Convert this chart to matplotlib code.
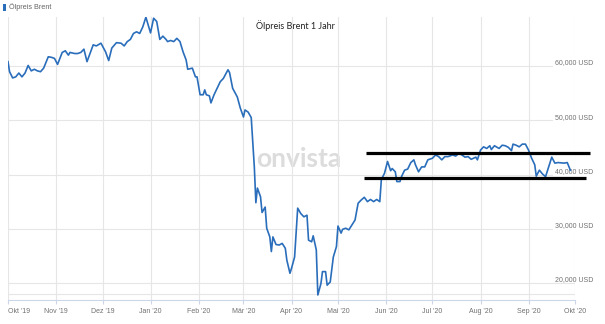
import datetime as dt
import matplotlib
matplotlib.use("Agg")
import matplotlib.pyplot as plt
import matplotlib.dates as mdates
from matplotlib.patches import Rectangle

# Brent price, days counted from 1 Oct 2019
start = dt.date(2019, 10, 1)
days = [0, 1, 3, 5, 7, 9, 11, 13, 15, 17, 19, 21, 23, 26, 28, 30, 32, 35, 37, 39,
        40, 43, 45, 47, 49, 51, 55, 57, 60, 63, 65, 67, 70, 73, 75, 77, 79, 81, 83, 85,
        87, 89, 92, 94, 96, 98, 100, 102, 103, 105, 107, 109, 111, 113, 115, 116, 119, 121, 122, 124,
        126, 127, 128, 130, 131, 133, 135, 137, 139, 142, 143, 145, 148, 150, 152, 153, 155, 157, 158, 159,
        160, 161, 163, 164, 166, 167, 169, 170, 171, 173, 175, 177, 179, 180, 182, 183, 185, 186, 187, 189,
        191, 193, 194, 196, 197, 199, 200, 202, 203, 205, 206, 208, 210, 212, 213, 215, 216, 218, 220, 224,
        226, 228, 230, 232, 234, 236, 238, 240, 241, 243, 245, 247, 248, 250, 251, 253, 254, 256, 258, 260,
        262, 263, 265, 267, 269, 271, 274, 276, 278, 280, 282, 284, 287, 289, 291, 293, 295, 297, 299, 302,
        303, 305, 307, 309, 311, 312, 314, 317, 319, 321, 323, 325, 326, 328, 330, 332, 334, 336, 338, 340,
        341, 343, 345, 347, 349, 351, 353, 355, 359, 361, 363]
price = [60.8, 58.95, 57.8, 58.0, 58.7, 58.0, 58.7, 60.1, 59.1, 59.4, 59.1, 58.95, 59.6, 61.7, 61.6, 61.4, 60.3, 62.5, 62.8, 62.0,
         62.5, 62.3, 62.3, 62.5, 63.1, 60.8, 63.9, 63.7, 64.2, 62.6, 61.0, 63.3, 64.3, 64.2, 63.7, 64.5, 64.9, 66.0, 66.3, 66.0,
         67.2, 69.0, 66.1, 68.8, 68.2, 64.9, 65.5, 64.9, 64.5, 64.7, 64.5, 65.1, 64.5, 62.6, 61.1, 59.4, 59.6, 58.0, 58.0, 54.7,
         54.7, 55.6, 54.7, 54.5, 53.2, 54.7, 55.9, 57.1, 57.7, 59.3, 58.8, 55.9, 54.3, 52.2, 50.6, 51.9, 51.5, 50.5, 46.0, 41.4,
         34.8, 37.5, 35.9, 33.0, 34.0, 30.1, 28.5, 25.8, 28.5, 27.1, 27.0, 27.3, 26.4, 24.2, 21.8, 22.7, 24.8, 29.2, 33.8, 32.8,
         32.2, 32.5, 27.9, 27.6, 28.7, 26.1, 17.8, 19.9, 22.1, 22.1, 19.6, 20.2, 24.8, 26.7, 30.5, 29.2, 29.9, 30.1, 29.8, 31.6,
         34.7, 35.3, 35.8, 35.0, 35.4, 35.0, 35.4, 35.0, 39.1, 40.2, 42.4, 40.7, 41.1, 40.5, 38.7, 38.7, 39.6, 40.8, 41.0, 42.2,
         42.7, 41.8, 40.5, 41.4, 41.4, 42.7, 43.0, 43.6, 43.3, 42.7, 43.3, 43.3, 43.6, 43.4, 43.9, 43.6, 43.2, 43.3, 42.8, 43.2,
         42.7, 44.5, 45.1, 44.8, 45.3, 44.6, 45.3, 44.8, 45.4, 45.3, 45.0, 44.4, 45.6, 45.4, 45.1, 45.6, 45.6, 44.5, 43.0, 41.8,
         39.7, 40.8, 40.1, 39.6, 41.4, 43.2, 42.1, 42.2, 42.1, 42.2, 40.8]

month_ticks = ["2019-10-01", "2019-11-01", "2019-12-01", "2020-01-01", "2020-02-01", "2020-03-01", "2020-04-01",
               "2020-05-01", "2020-06-01", "2020-07-01", "2020-08-01", "2020-09-01", "2020-10-01"]
month_labels = ["Okt '19", "Nov '19", "Dez '19", "Jan '20", "Feb '20", "Mär '20", "Apr '20",
                "Mai '20", "Jun '20", "Jul '20", "Aug '20", "Sep '20", "Okt '20"]
y_levels = [20, 30, 40, 50, 60]
y_labels = ["20,000 USD", "30,000 USD", "40,000 USD", "50,000 USD", "60,000 USD"]
floor_level = 18

# hand drawn channel lines (value, first day, last day)
resistance = (44.0, 231.6, 376.8)
support = (39.3, 230.5, 373.6)

blue = "#2a6ebb"
grid = "#e6e6e6"

dates = [start + dt.timedelta(days=d) for d in days]
tick_dates = [dt.date.fromisoformat(s) for s in month_ticks]

fig = plt.figure(figsize=(6.05, 3.24), dpi=100)
ax = fig.add_axes([8 / 605, 1 - 300 / 324, 567 / 605, 283 / 324])

ax.plot(dates, price, color=blue, lw=1.2, zorder=3)

for lvl, txt in zip(y_levels, y_labels):
    ax.axhline(lvl, color=grid, lw=0.8, zorder=1)
    box = None if lvl == 20 else dict(facecolor="white", edgecolor="none", pad=1.0)
    ax.text(1.0317, lvl + 0.55, txt, transform=ax.get_yaxis_transform(), ha="right", va="center",
            fontsize=5, color="#707070", family="Liberation Sans", bbox=box, zorder=2, clip_on=False)
ax.axhline(floor_level, color=grid, lw=0.8, zorder=1)

for val, d0, d1 in (resistance, support):
    ax.plot([start + dt.timedelta(days=d0), start + dt.timedelta(days=d1)], [val, val],
            color="black", lw=2.3, solid_capstyle="butt", zorder=4, clip_on=False)

ax.set_xlim(tick_dates[0], tick_dates[-1])
ax.set_ylim(16.87, 69.03)
ax.set_xticks(tick_dates)
ax.set_xticklabels(month_labels, fontsize=5, color="#707070", family="Liberation Sans")
ax.get_xticklabels()[0].set_horizontalalignment("left")
ax.set_yticks([])
ax.grid(axis="x", color=grid, lw=0.8, zorder=1)
ax.set_axisbelow(True)
ax.tick_params(axis="x", length=3, color="#ccd6eb", pad=2.5)
for s in ("top", "right", "left"):
    ax.spines[s].set_visible(False)
ax.spines["bottom"].set_color("#ccd6eb")
ax.spines["bottom"].set_linewidth(0.8)

# watermark
ax.text(299 / 605, 1 - 159 / 324, "onvista", transform=fig.transFigure, ha="center", va="center",
        fontsize=19, fontweight="bold", family="Lato", color="#dcdcdc", zorder=0.5)

fig.text(295 / 605, 1 - 26 / 324, "Ölpreis Brent 1 Jahr", ha="center", va="center",
         fontsize=6.5, family="Lato", color="#222222")

# legend
fig.patches.append(Rectangle((3 / 605, 1 - 11 / 324), 3 / 605, 7 / 324, transform=fig.transFigure,
                             facecolor=blue, edgecolor="none"))
fig.text(9 / 605, 1 - 7.5 / 324, "Ölpreis Brent", ha="left", va="center",
         fontsize=5.2, family="Liberation Sans", color="#666666")

fig.savefig("out.png", dpi=100)
